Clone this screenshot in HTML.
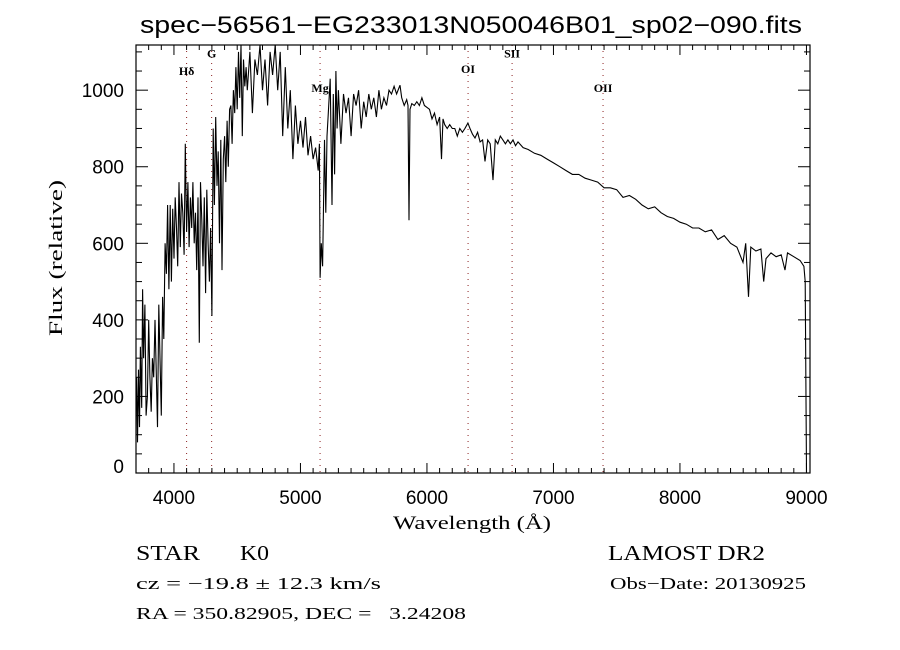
<!DOCTYPE html>
<html><head><meta charset="utf-8">
<style>
html,body{margin:0;padding:0;background:#fff;}
svg{display:block;}
text{font-family:"Liberation Serif",serif;fill:#000;}
.sans{font-family:"Liberation Sans",sans-serif;}
</style></head>
<body>
<svg id="chart" width="900" height="650" viewBox="0 0 900 650">
<rect width="900" height="650" fill="#fff"/>
<text x="140" y="33" font-size="24" textLength="662" lengthAdjust="spacingAndGlyphs" class="sans">spec−56561−EG233013N050046B01_sp02−090.fits</text>
<g id="lines"></g>
<path id="spec" fill="none" stroke="#000" stroke-width="1.1"/>
<rect x="136" y="45" width="674" height="428" fill="none" stroke="#000" stroke-width="1.2"/>
<g id="ticks"></g>
<text x="393" y="529" font-size="19" textLength="158" lengthAdjust="spacingAndGlyphs">Wavelength (Å)</text>
<text transform="translate(62,336) rotate(-90)" font-size="19" textLength="156" lengthAdjust="spacingAndGlyphs">Flux (relative)</text>
<text x="136" y="560" font-size="21" textLength="64" lengthAdjust="spacingAndGlyphs">STAR</text>
<text x="240" y="560" font-size="21" textLength="29" lengthAdjust="spacingAndGlyphs">K0</text>
<text x="136" y="589" font-size="17" textLength="245" lengthAdjust="spacingAndGlyphs">cz = −19.8 ± 12.3 km/s</text>
<text x="136" y="619" font-size="17" textLength="330" lengthAdjust="spacingAndGlyphs" xml:space="preserve">RA = 350.82905, DEC =   3.24208</text>
<text x="608" y="560" font-size="21" textLength="157" lengthAdjust="spacingAndGlyphs">LAMOST DR2</text>
<text x="610" y="589" font-size="17" textLength="196" lengthAdjust="spacingAndGlyphs">Obs−Date: 20130925</text>
</svg>
<script>
const wave=[3705,3712,3720,3728,3735,3745,3752,3760,3770,3780,3790,3800,3810,3820,3830,3840,3850,3860,3870,3880,3890,3900,3910,3920,3930,3940,3950,3960,3970,3980,3990,4000,4010,4020,4030,4040,4050,4060,4070,4080,4090,4100,4110,4120,4130,4140,4150,4160,4170,4180,4190,4200,4210,4220,4230,4240,4250,4260,4270,4280,4290,4300,4310,4320,4330,4340,4350,4360,4370,4380,4390,4400,4410,4420,4430,4440,4450,4460,4470,4480,4490,4500,4510,4520,4530,4540,4550,4560,4570,4580,4600,4620,4640,4660,4680,4700,4720,4740,4760,4780,4800,4820,4840,4860,4880,4900,4920,4940,4960,4980,5000,5020,5040,5060,5080,5100,5120,5140,5150,5155,5165,5175,5190,5200,5210,5220,5235,5249,5260,5270,5280,5290,5300,5320,5340,5360,5380,5400,5420,5440,5460,5480,5500,5520,5540,5560,5580,5600,5620,5640,5660,5680,5700,5720,5740,5760,5787,5800,5820,5840,5850,5858,5866,5880,5900,5920,5940,5960,5980,6000,6020,6040,6060,6080,6100,6115,6127,6140,6160,6180,6200,6220,6240,6260,6280,6300,6324,6340,6360,6380,6400,6420,6440,6459,6480,6500,6522,6540,6560,6580,6600,6620,6640,6660,6680,6700,6720,6760,6800,6850,6900,6950,7000,7050,7100,7150,7200,7250,7300,7350,7400,7450,7500,7550,7600,7650,7700,7750,7800,7850,7900,7950,8000,8050,8100,8150,8200,8250,8300,8350,8400,8450,8498,8520,8542,8560,8600,8640,8662,8680,8720,8760,8800,8830,8850,8900,8950,8980,8990,9000];
const flux=[250,80,270,120,330,170,480,300,440,150,200,400,250,160,300,250,400,270,120,440,300,150,460,350,600,520,700,480,700,500,690,560,720,640,540,760,590,730,680,570,860,630,760,590,720,640,760,600,680,530,720,340,760,660,540,720,470,740,600,500,640,410,900,700,930,750,840,600,870,530,820,880,760,920,800,950,960,860,1000,940,1060,950,1100,980,1120,880,1080,1010,1060,1000,1100,940,1080,1040,1120,1000,1080,960,1100,1040,1120,1000,1100,880,1060,900,1000,820,960,860,920,850,930,830,880,820,850,790,860,510,600,540,870,680,880,940,1030,700,990,780,1050,900,1000,860,990,940,980,880,990,960,1000,900,970,930,990,950,980,930,1000,950,980,960,1000,990,1010,990,1013,980,960,975,960,660,950,965,960,970,960,980,960,955,950,925,940,910,930,820,925,910,900,910,900,900,880,900,890,900,914,900,885,875,890,865,870,814,870,860,765,870,860,880,870,860,870,860,870,855,865,850,845,835,830,820,810,800,790,780,780,770,765,760,745,745,740,720,725,715,700,690,695,680,670,665,655,650,640,640,630,635,610,620,600,590,550,600,460,590,580,585,500,560,575,565,570,530,575,565,555,540,500,0];
const lineNames=["Hδ","G","Mg","OI","SII","OII"];
const lineWaves=[4100,4298,5155,6325,6673,7392];
const lineLabelFlux=[1040,1085,995,1045,1085,995];
const xTickVals=[4000,5000,6000,7000,8000,9000];
const yTickVals=[0,200,400,600,800,1000];
const X0=136,X1=810,Y0=473,Y1=45,WMIN=3700,WMAX=9028,FMIN=0,FMAX=1118;
const xs=w=>X0+(w-WMIN)/(WMAX-WMIN)*(X1-X0);
const ys=f=>Y0-(f-FMIN)/(FMAX-FMIN)*(Y0-Y1);
const NS='http://www.w3.org/2000/svg';
let d='';
for(let i=0;i<wave.length;i++){d+=(i?'L':'M')+xs(wave[i]).toFixed(1)+' '+Math.max(Y1,Math.min(Y0,ys(flux[i]))).toFixed(1);}
document.getElementById('spec').setAttribute('d',d);
const lg=document.getElementById('lines');
lineWaves.forEach((w,i)=>{
  const l=document.createElementNS(NS,'line');
  l.setAttribute('x1',xs(w));l.setAttribute('x2',xs(w));l.setAttribute('y1',Y1);l.setAttribute('y2',Y0);
  l.setAttribute('stroke','#8b2020');l.setAttribute('stroke-dasharray','1 5');
  
  
  lg.appendChild(l);
  const t=document.createElementNS(NS,'text');
  t.setAttribute('x',xs(w));t.setAttribute('y',ys(lineLabelFlux[i]));t.setAttribute('font-size','12');t.setAttribute('font-weight','bold');t.setAttribute('text-anchor','middle');
  t.textContent=lineNames[i];
  
  
  lg.appendChild(t);
});
const tg=document.getElementById('ticks');
function ln(x1,y1,x2,y2){const l=document.createElementNS(NS,'line');l.setAttribute('x1',x1);l.setAttribute('y1',y1);l.setAttribute('x2',x2);l.setAttribute('y2',y2);l.setAttribute('stroke','#000');tg.appendChild(l);}
for(let w=3700;w<=WMAX;w+=100){const x=xs(w);const L=(w%1000===0)?10:5;ln(x,Y0,x,Y0-L);ln(x,Y1,x,Y1+L);}
for(let f=0;f<=FMAX;f+=50){const y=ys(f);const L=(f%200===0)?12:6;ln(X0,y,X0+L,y);ln(X1,y,X1-L,y);}
xTickVals.forEach(v=>{const t=document.createElementNS(NS,'text');t.setAttribute('x',xs(v));t.setAttribute('y',Y0+31);t.setAttribute('font-size','19');t.setAttribute('text-anchor','middle');t.setAttribute('class','sans');t.textContent=v;


tg.appendChild(t);});
yTickVals.forEach(v=>{const t=document.createElementNS(NS,'text');t.setAttribute('x',X0-12);t.setAttribute('y',Math.min(ys(v)+7,Y0));t.setAttribute('font-size','19');t.setAttribute('text-anchor','end');t.setAttribute('class','sans');t.textContent=v;


tg.appendChild(t);});
</script>
</body></html>
